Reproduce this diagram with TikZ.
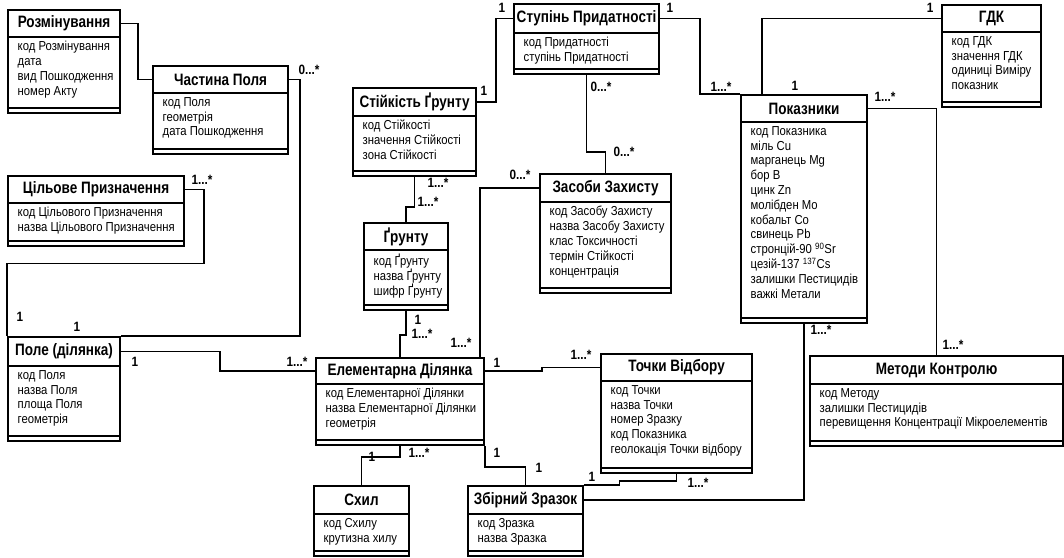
\documentclass[tikz,border=0pt]{standalone}
\usepackage{fontspec}
\setmainfont{Liberation Sans}[FakeStretch=0.87]
\newfontfamily\titlefont{Liberation Sans}[FakeStretch=0.82]

\begin{document}
\begin{tikzpicture}[x=1pt, y=-1pt, line join=miter]

        \def\emptyh{6}      % height of the empty bottom compartment
        \tikzstyle{classbox}=[draw=black, line width=2.1pt, inner sep=0pt, anchor=north west]
        \tikzstyle{classhead}=[draw=black, line width=2.1pt, inner sep=0pt, anchor=north west, font=\titlefont\bfseries\fontsize{16.5}{18}\selectfont]
        \tikzstyle{attrs}=[anchor=north west, align=left, inner xsep=10.5pt, inner ysep=3pt, font=\fontsize{13}{14.8}\selectfont]
        \tikzstyle{link}=[line width=1.7pt]
        \tikzstyle{mult}=[inner sep=0pt, font=\bfseries\fontsize{13.5}{13.5}\selectfont]

        % one class: name, x, y, width, height, header height, title, attributes
        \def\umlclass#1#2#3#4#5#6#7#8{
                \node[classbox, minimum width=#4pt, minimum height=#5pt] (#1) at (#2,#3) {};
                \node[classhead, minimum width=#4pt, minimum height=#6pt] (#1-t) at (#2,#3) {#7};
                \node[attrs] (#1-a) at (#1-t.south west) {#8};
                \draw[line width=1.3pt] ([yshift=\emptyh pt]#1.south west) -- ([yshift=\emptyh pt]#1.south east);
        }

        \useasboundingbox (0,0) rectangle (1064,557);

        % Draw the classes
        \umlclass{rozm}{7}{9}{112}{103}{27}{Розмінування}{код Розмінування\\дата\\вид Пошкодження\\номер Акту}
        \umlclass{chast}{152}{65}{135}{88}{27}{Частина Поля}{код Поля\\геометрія\\дата Пошкодження}
        \umlclass{cil}{7}{175}{176}{70}{27}{Цільове Призначення}{код Цільового Призначення\\назва Цільового Призначення}
        \umlclass{pole}{7}{336}{112}{104}{29}{Поле (ділянка)}{код Поля\\назва Поля\\площа Поля\\геометрія}
        \umlclass{stup}{513}{3}{145}{70}{29}{Ступінь Придатності}{код Придатності\\ступінь Придатності}
        \umlclass{stik}{352}{87}{123}{88}{28}{Стійкість Ґрунту}{код Стійкості\\значення Стійкості\\зона Стійкості}
        \umlclass{grunt}{363}{222}{84}{87}{27}{Ґрунту}{код Ґрунту\\назва Ґрунту\\шифр Ґрунту}
        \umlclass{zasob}{539}{173}{131}{119}{28}{Засоби Захисту}{код Засобу Захисту\\назва Засобу Захисту\\клас Токсичності\\термін Стійкості\\концентрація}
        \umlclass{pokaz}{740}{94}{126}{228}{27}{Показники}{код Показника\\міль Cu\\марганець Mg\\бор B\\цинк Zn\\молібден Mo\\кобальт Co\\свинець Pb\\стронцій-90 \textsuperscript{90}Sr\\цезій-137 \textsuperscript{137}Cs\\залишки Пестицидів\\важкі Метали}
        \umlclass{gdk}{941}{4}{99}{102}{27}{ГДК}{код ГДК\\значення ГДК\\одиниці Виміру\\показник}
        \umlclass{elem}{315}{357}{168}{87}{26}{Елементарна Ділянка}{код Елементарної Ділянки\\назва Елементарної Ділянки\\геометрія}
        \umlclass{tochky}{600}{353}{151}{119}{27}{Точки Відбору}{код Точки\\назва Точки\\номер Зразку\\код Показника\\геолокація Точки відбору}
        \umlclass{metody}{809}{355}{253}{90}{28}{Методи Контролю}{код Методу\\залишки Пестицидів\\перевищення Концентрації Мікроелементів}
        \umlclass{skhyl}{313}{485}{95}{70}{28}{Схил}{код Схилу\\крутизна хилу}
        \umlclass{zbir}{467}{485}{115}{70}{28}{Збірний Зразок}{код Зразка\\назва Зразка}

        % Connect the classes
        \draw[link] (rozm-t.east) -- ++(17,0) |- (chast-t.west);
        \draw[link] (chast-t.east) -- ++(11,0) |- (pole.north east);
        \draw[link] (cil-t.east) -- ++(19,0) -- ++(0,74) -| (pole.north west);
        \draw[link] (pole-t.east) -- ++(99,0) |- (elem-t.west);
        \draw[link] (stik-t.east) -- ++(19,0) |- (stup-t.west);
        \draw[link] (stik.south) -- ++(0,30) -| (grunt.north);
        \draw[link] (grunt.south) -- ++(0,24) -| (elem.north);
        \draw[link] (stup.south) -- ++(0,77) -| (zasob.north);
        \draw[link] ([xshift=-5pt]elem.north east) |- (zasob-t.west);
        \draw[link] (stup-t.east) -- ++(40,0) |- (pokaz.north west);
        \draw[link] (gdk-t.west) -| ([xshift=22pt]pokaz.north west);
        \draw[link] (pokaz-t.east) -| (metody.north);
        \draw[link] (pokaz.south) |- (zbir-t.east);
        \draw[link] (tochky.south) -- ++(0,7) -- ++(-57,0) |- (zbir.north east);
        \draw[link] (elem-t.east) -- ++(57,0) |- (tochky-t.west);
        \draw[link] (elem.south) -- ++(0,11) -| (skhyl.north);
        \draw[link] (elem.south east) -- ++(0,21) -| (zbir.north);

        % Multiplicities
        \node[mult] (m-chast) at (309,70) {0...*};
        \node[mult] (m-cil) at (202,180) {1...*};
        \node[mult] (m-pole1) at (20,317) {1};
        \node[mult] (m-pole2) at (77,327) {1};
        \node[mult] (m-pole3) at (135,362) {1};
        \node[mult] (m-elem1) at (297,362) {1...*};
        \node[mult] (m-stik1) at (484,91) {1};
        \node[mult] (m-stup1) at (502,8) {1};
        \node[mult] (m-stup2) at (670,8) {1};
        \node[mult] (m-stik2) at (438,183) {1...*};
        \node[mult] (m-grunt1) at (428,202) {1...*};
        \node[mult] (m-grunt2) at (418,320) {1};
        \node[mult] (m-elem2) at (422,334) {1...*};
        \node[mult] (m-stup3) at (601,87) {0...*};
        \node[mult] (m-zasob1) at (624,152) {0...*};
        \node[mult] (m-zasob2) at (520,175) {0...*};
        \node[mult] (m-elem3) at (461,343) {1...*};
        \node[mult] (m-pokaz1) at (721,87) {1...*};
        \node[mult] (m-gdk) at (930,8) {1};
        \node[mult] (m-pokaz2) at (795,86) {1};
        \node[mult] (m-pokaz3) at (885,97) {1...*};
        \node[mult] (m-metody) at (953,345) {1...*};
        \node[mult] (m-pokaz4) at (821,330) {1...*};
        \node[mult] (m-tochky1) at (698,483) {1...*};
        \node[mult] (m-zbir1) at (592,477) {1};
        \node[mult] (m-elem4) at (497,363) {1};
        \node[mult] (m-tochky2) at (581,355) {1...*};
        \node[mult] (m-skhyl) at (372,457) {1};
        \node[mult] (m-elem5) at (419,453) {1...*};
        \node[mult] (m-elem6) at (497,453) {1};
        \node[mult] (m-zbir2) at (539,468) {1};

\end{tikzpicture}
\end{document}
